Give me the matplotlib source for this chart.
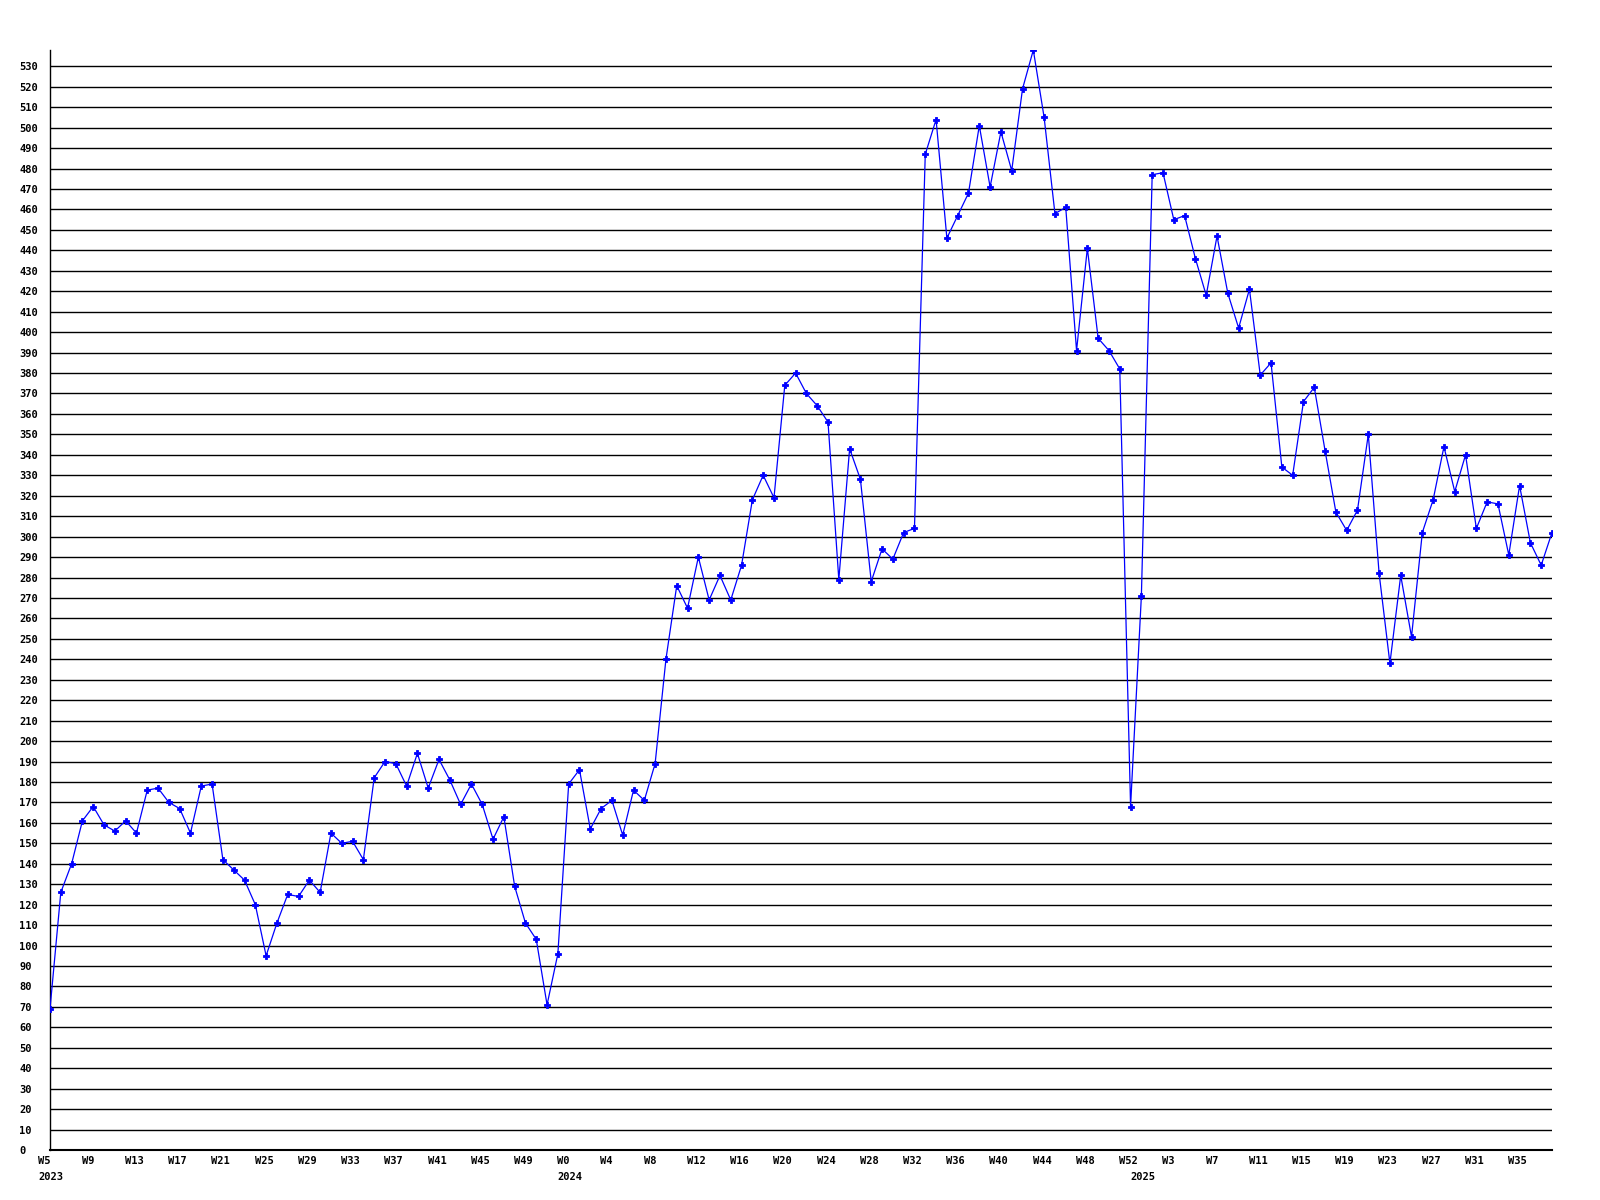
import matplotlib
matplotlib.use("Agg")
import matplotlib.pyplot as plt
import matplotlib.transforms as mtransforms

# ---- data ----
years = ["2023", "2024", "2025"]
weeks_2023 = list(range(5, 53))      # W5 .. W52
weeks_2024 = list(range(0, 53))      # W0 .. W52
weeks_2025 = list(range(0, 39))      # W0 .. W38

values_2023 = [69, 126, 140, 161, 168, 159, 156, 161, 155, 176, 177, 170, 167, 155,
               178, 179, 142, 137, 132, 120, 95, 111, 125, 124, 132, 126, 155, 150,
               151, 142, 182, 190, 189, 178, 194, 177, 191, 181, 169, 179, 169, 152,
               163, 129, 111, 103, 71, 96]
values_2024 = [179, 186, 157, 167, 171, 154, 176, 171, 189, 240, 276, 265, 290, 269,
               281, 269, 286, 318, 330, 319, 374, 380, 370, 364, 356, 279, 343, 328,
               278, 294, 289, 302, 304, 487, 504, 446, 457, 468, 501, 471, 498, 479,
               519, 538, 505, 458, 461, 391, 441, 397, 391, 382, 168]
values_2025 = [271, 477, 478, 455, 457, 436, 418, 447, 419, 402, 421, 379, 385, 334,
               330, 366, 373, 342, 312, 303, 313, 350, 282, 238, 281, 251, 302, 318,
               344, 322, 340, 304, 317, 316, 291, 325, 297, 286, 302]

week_labels = ([f"W{w}" for w in weeks_2023] + [f"W{w}" for w in weeks_2024]
               + [f"W{w}" for w in weeks_2025])
values = values_2023 + values_2024 + values_2025
year_start = [0, len(weeks_2023), len(weeks_2023) + len(weeks_2024)]

y_ticks = list(range(0, 540, 10))

# ---- figure ----
fig = plt.figure(figsize=(16, 12), dpi=100)
ax = fig.add_axes([50 / 1600, 50 / 1200, 1502 / 1600, 1100 / 1200])

x = list(range(len(values)))
ax.set_xlim(0, len(values) - 1)
ax.set_ylim(0, max(values))

for t in y_ticks[1:]:
    ax.axhline(t, color="black", linewidth=1.0, zorder=1)

ax.plot(x, values, color="#0000ff", linewidth=0.9, marker="P", markersize=3.8,
        markeredgewidth=0.6, markeredgecolor="#0000ff", zorder=3, clip_on=True)

for s in ["top", "right"]:
    ax.spines[s].set_visible(False)
ax.spines["left"].set_linewidth(1.0)
ax.spines["bottom"].set_linewidth(1.5)

font = dict(family="DejaVu Sans Mono", weight="bold", size=7.5)

ax.set_yticks(y_ticks)
ax.set_yticklabels([str(t) for t in y_ticks], ha="left", **font)
ax.tick_params(axis="y", length=0, pad=22)

xt = list(range(0, len(values), 4))
ax.set_xticks(xt)
ax.set_xticklabels([])
ax.tick_params(axis="x", length=0)

shift = mtransforms.ScaledTranslation(-11.5 / 100, 0, fig.dpi_scale_trans)
trans = mtransforms.blended_transform_factory(ax.transData, fig.transFigure) + shift
for i in xt:
    ax.text(i, 1 - 1161 / 1200, week_labels[i], transform=trans, ha="left",
            va="center", clip_on=False, **font)
for yr, i in zip(years, year_start):
    ax.text(i, 1 - 1177 / 1200, yr, transform=trans, ha="left",
            va="center", clip_on=False, **font)

fig.savefig("out.png", dpi=100, facecolor="white")
